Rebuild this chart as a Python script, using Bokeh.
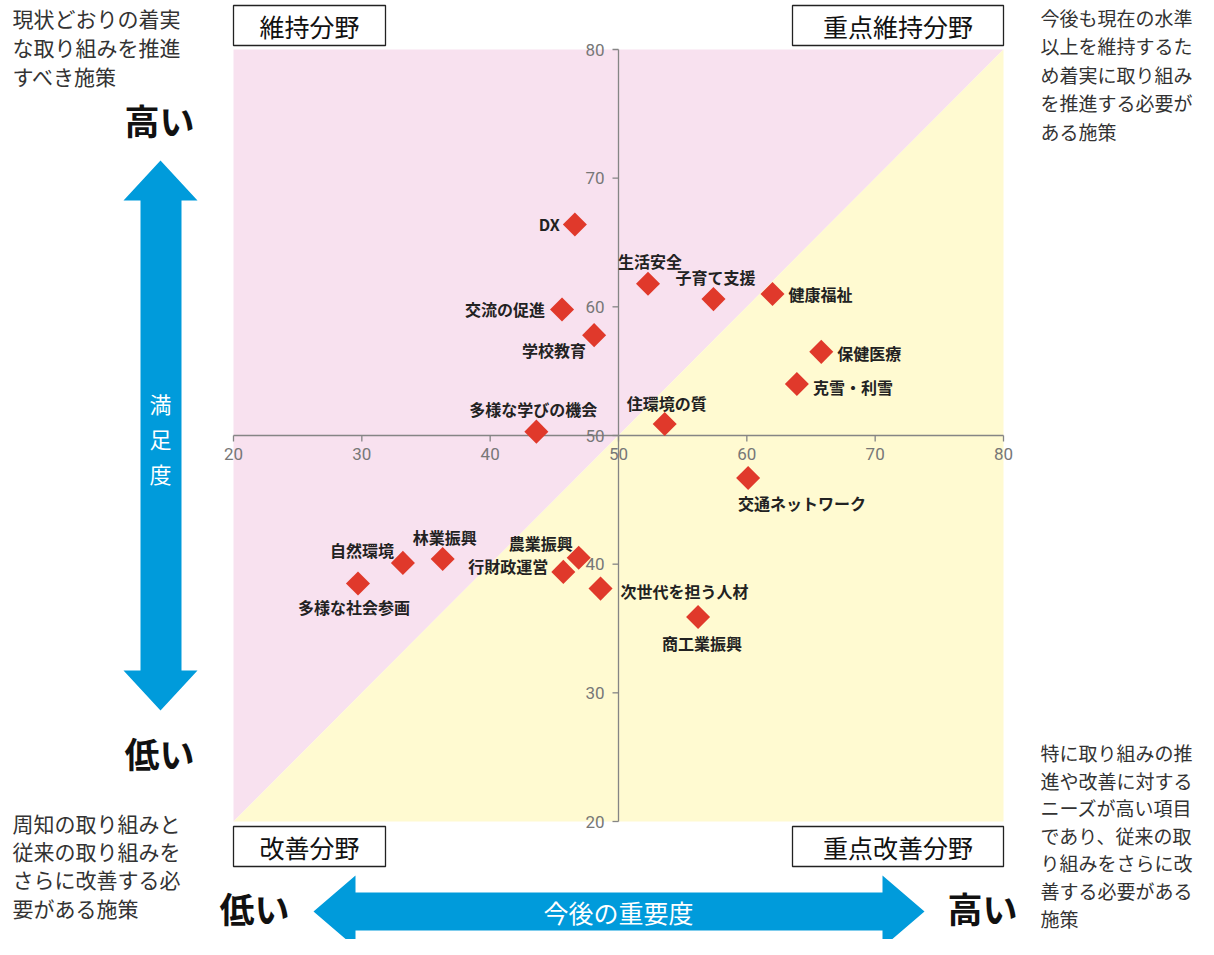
import numpy as np
from bokeh.plotting import figure
from bokeh.models import ColumnDataSource, Range1d
from bokeh.core.properties import value
from bokeh.embed import file_html
from bokeh.resources import INLINE

# ---------------- data ----------------
names = ["DX", "生活安全", "子育て支援", "健康福祉", "交流の促進", "学校教育",
         "保健医療", "克雪・利雪", "住環境の質", "多様な学びの機会", "交通ネットワーク",
         "自然環境", "林業振興", "多様な社会参画", "農業振興", "行財政運営",
         "次世代を担う人材", "商工業振興"]
importance = [46.6, 52.3, 57.4, 62.0, 45.6, 48.1, 65.8, 63.9, 53.6, 43.6, 60.1,
              33.2, 36.3, 29.7, 46.9, 45.7, 48.6, 56.2]
satisfaction = [66.4, 61.8, 60.6, 61.0, 59.8, 57.8, 56.5, 54.0, 50.9, 50.3, 46.7,
                40.1, 40.4, 38.5, 40.5, 39.4, 38.1, 35.9]
ticks = [20, 30, 40, 50, 60, 70, 80]
tick_labels = ["20", "30", "40", "50", "60", "70", "80"]
axis_min, axis_max, axis_center = 20, 80, 50

quadrant_names = ["維持分野", "重点維持分野", "改善分野", "重点改善分野"]
desc_tl = ["現状どおりの着実", "な取り組みを推進", "すべき施策"]
desc_tr = ["今後も現在の水準", "以上を維持するた", "め着実に取り組み", "を推進する必要が", "ある施策"]
desc_bl = ["周知の取り組みと", "従来の取り組みを", "さらに改善する必", "要がある施策"]
desc_br = ["特に取り組みの推", "進や改善に対する", "ニーズが高い項目", "であり、従来の取",
           "り組みをさらに改", "善する必要がある", "施策"]
y_title = ["満", "足", "度"]
x_title = "今後の重要度"
high_text, low_text = "高い", "低い"

# ---------------- label styling (offsets in px) ----------------
label_align = ["right", "center", "center", "left", "right", "right", "left", "left",
               "center", "center", "left", "right", "center", "center", "right",
               "right", "left", "center"]
label_dx = [-15, 2, 2, 16, -17, -8, 16, 16, 2, -3, -10, -9, 2, -4, -6, -15, 20, 4]
label_dy = [0, -23, -22, 0, 0, 15, 1, 3, -21, -23, 25, -13, -22, 24, -15, -6, 2, 26]

# ---------------- geometry ----------------
W, H = 1198, 939
KX = 770 / 60.0
KY = 772 / 60.0


def sx(px):
    return 20 + (px - 233) / KX


def sy(py):
    return 80 - (py - 49) / KY


FONT = value("Noto Sans CJK JP")

p = figure(width=W, height=H, x_range=Range1d(sx(0), sx(W)),
           y_range=Range1d(sy(H), sy(0)), output_backend="svg",
           toolbar_location=None, x_axis_location=None, y_axis_location=None,
           min_border=0, outline_line_color=None, background_fill_color="white")
p.grid.visible = False

# background triangles
p.patch([axis_min, axis_min, axis_max], [axis_min, axis_max, axis_max],
        fill_color="#f8e1ef", line_color=None)
p.patch([axis_min, axis_max, axis_max], [axis_min, axis_min, axis_max],
        fill_color="#fffad1", line_color=None)

# axes crossing at center
axc = "#858585"
p.segment(x0=[axis_min, axis_center], y0=[axis_center, axis_min],
          x1=[axis_max, axis_center], y1=[axis_center, axis_max],
          line_color=axc, line_width=1.3)
tl_y = 6 / KY
tl_x = 6 / KX
p.segment(x0=ticks, y0=[axis_center] * len(ticks), x1=ticks,
          y1=[axis_center - tl_y] * len(ticks), line_color=axc, line_width=1.3)
p.segment(x0=[axis_center] * len(ticks), y0=ticks, x1=[axis_center - tl_x] * len(ticks),
          y1=ticks, line_color=axc, line_width=1.3)
p.text(x=ticks, y=[axis_center] * len(ticks), text=tick_labels,
       text_font=value("Roboto"), text_font_size="17px",
       text_color="#777777", text_align="center", text_baseline="top", y_offset=12)
p.text(x=[axis_center] * len(ticks), y=ticks, text=tick_labels,
       text_font=value("Roboto"), text_font_size="17px",
       text_color="#777777", text_align="right", text_baseline="middle", x_offset=-14)

# points
src = ColumnDataSource(dict(x=importance, y=satisfaction, name=names,
                            align=label_align, dx=label_dx, dy=label_dy))
p.scatter("x", "y", source=src, marker="square", angle=np.pi / 4, size=17,
          fill_color="#e0392b", line_color=None)
p.text("x", "y", text="name", source=src, text_font=FONT, text_font_size="16px",
       text_font_style="bold", text_color="#222222", text_align="align",
       text_baseline="middle", x_offset="dx", y_offset="dy")

# quadrant boxes
box_l = [233, 792, 233, 792]
box_r = [385, 1003, 385, 1003]
box_t = [5, 5, 826, 826]
box_b = [45, 45, 866, 866]
p.quad(left=[sx(v) for v in box_l], right=[sx(v) for v in box_r],
       top=[sy(v) for v in box_t], bottom=[sy(v) for v in box_b],
       fill_color="white", line_color="#222222", line_width=1.3)
p.text(x=[sx((a + b) / 2) for a, b in zip(box_l, box_r)],
       y=[sy((a + b) / 2) for a, b in zip(box_t, box_b)], text=quadrant_names,
       text_font=FONT, text_font_size="25px", text_color="#111111",
       text_align="center", text_baseline="middle")

# arrows
blue = "#009bdb"
vx = [160, 197, 181, 181, 197, 160, 123, 140, 140, 123]
vy = [160, 200, 200, 670, 670, 710, 670, 670, 200, 200]
p.patch([sx(v) for v in vx], [sy(v) for v in vy], fill_color=blue, line_color=None)
hx = [313, 355, 355, 882, 882, 924, 882, 882, 355, 355]
hy = [911, 875, 892, 892, 875, 911, 947, 930, 930, 947]
p.patch([sx(v) for v in hx], [sy(v) for v in hy], fill_color=blue, line_color=None)
p.text(x=[sx(160)] * 3, y=[sy(v) for v in (402, 437, 472)], text=y_title,
       text_font=FONT, text_font_size="22px", text_color="white",
       text_align="center", text_baseline="middle")
p.text(x=[sx(618)], y=[sy(911)], text=[x_title], text_font=FONT,
       text_font_size="25px", text_color="white", text_align="center",
       text_baseline="middle")

# high / low
p.text(x=[sx(159), sx(159), sx(254), sx(982)],
       y=[sy(119), sy(752), sy(907), sy(907)],
       text=[high_text, low_text, low_text, high_text], text_font=FONT,
       text_font_size="35px", text_font_style="bold", text_color="#111111",
       text_align="center", text_baseline="middle")

# descriptions


def desc(lines, x0, y0, step, size):
    p.text(x=[sx(x0)] * len(lines), y=[sy(y0 + i * step) for i in range(len(lines))],
           text=lines, text_font=FONT, text_font_size=size, text_color="#333333",
           text_align="left", text_baseline="middle")


desc(desc_tl, 12, 17, 29, "21px")
desc(desc_tr, 1040, 17, 28.4, "19px")
desc(desc_bl, 12, 822, 28.4, "21px")
desc(desc_br, 1040, 752, 27.6, "19px")

open("out.html", "w").write(file_html(p, INLINE))
